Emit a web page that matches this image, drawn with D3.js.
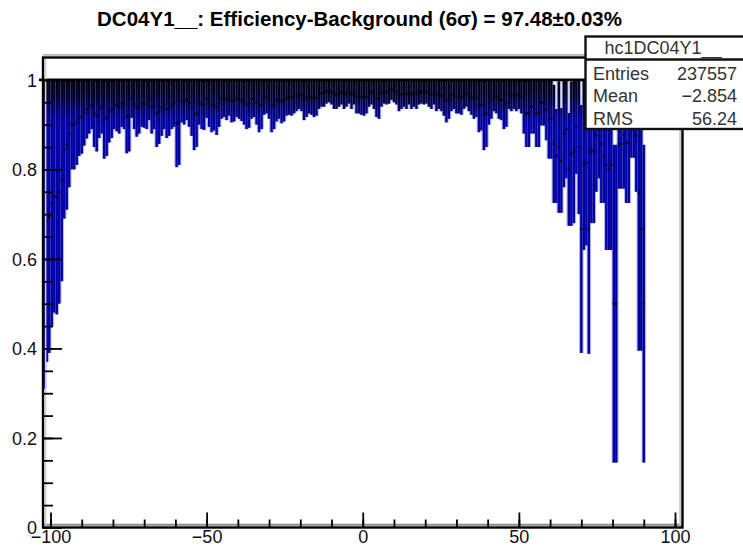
<!DOCTYPE html>
<html>
<head>
<meta charset="utf-8">
<script src="https://cdn.jsdelivr.net/npm/d3@7"></script>
<style>
  html, body { margin: 0; padding: 0; background: #fff; }
  svg { display: block; font-family: "Liberation Sans", Arial, Helvetica, sans-serif; }
</style>
</head>
<body>
<svg id="chart" width="743" height="548"></svg>
<script>
// ---- histogram content -------------------------------------------------
const histTitle = "DC04Y1__: Efficiency-Background (6\u03c3) = 97.48\u00b10.03%";
const histName = "hc1DC04Y1__";
const statLabels = ["Entries", "Mean", "RMS"];
const statValues = ["237557", "\u22122.854", "56.24"];

// 256 bins of 0.8 starting at -102.4
const binLow = -102.4;
const binWidth = 0.8;

// efficiency per bin (null = empty bin)
const eff = [
  0.655,0.685,0.695,0.725,0.74,0.738,0.75,0.775,0.845,0.855,
  0.88,0.90,0.90,0.905,0.915,0.918,0.927,0.935,0.94,0.945,
  0.925,0.92,0.935,0.94,0.912,0.915,0.93,0.935,0.945,0.943,
  0.94,0.948,0.945,0.918,0.92,0.958,0.945,0.937,0.94,0.948,
  0.947,0.945,0.955,0.94,0.945,0.925,0.929,0.938,0.945,0.935,
  0.938,0.945,0.948,0.903,0.905,0.953,0.95,0.955,0.948,0.938,
  0.922,0.925,0.95,0.945,0.944,0.958,0.948,0.942,0.944,0.939,
  0.948,0.957,0.959,0.955,0.96,0.953,0.954,0.959,0.957,0.954,
  0.95,0.945,0.947,0.957,0.959,0.95,0.942,0.945,0.961,0.963,
  0.957,0.942,0.945,0.954,0.957,0.952,0.954,0.96,0.961,0.96,
  0.963,0.965,0.968,0.965,0.955,0.959,0.963,0.961,0.959,0.96,
  0.968,0.97,0.97,0.974,0.975,0.973,0.968,0.968,0.97,0.973,
  0.968,0.97,0.974,0.968,0.973,0.963,0.963,0.961,0.96,0.963,
  0.97,0.973,0.968,0.959,0.957,0.97,0.974,0.973,0.974,0.978,
  0.975,0.973,0.965,0.968,0.97,0.968,0.973,0.968,0.97,0.968,
  0.973,0.974,0.973,0.974,0.97,0.968,0.973,0.965,0.968,0.965,
  0.96,0.953,0.957,0.965,0.968,0.963,0.963,0.961,0.968,0.97,
  0.965,0.961,0.957,0.959,0.942,0.944,0.922,0.925,0.95,0.957,
  0.965,0.963,0.957,0.955,0.945,0.948,0.968,0.965,0.968,0.965,
  0.968,0.963,0.94,0.925,0.925,0.94,0.94,0.925,0.925,0.949,
  0.949,0.933,0.912,0.912,0.857,0.83,0.85,0.82,0.88,0.89,
  0.80,0.835,0.84,0.895,0.85,0.667,0.81,0.815,0.667,0.84,
  0.84,0.875,0.89,0.857,0.83,0.81,0.80,0.81,0.5,0.5,
  0.857,0.857,0.878,0.86,0.86,0.91,0.91,0.875,0.748,0.667,
  0.5,null,null,null,null,null,null,null,null,null,
  null,null,null,null,null,null
];

// binomial error per bin
const err = [
  0.345,0.315,0.305,0.275,0.26,0.262,0.25,0.225,0.155,0.145,
  0.12,0.10,0.10,0.095,0.085,0.083,0.074,0.066,0.06,0.055,
  0.075,0.08,0.065,0.06,0.088,0.085,0.07,0.065,0.055,0.058,
  0.06,0.053,0.055,0.082,0.08,0.043,0.055,0.064,0.06,0.053,
  0.054,0.055,0.045,0.06,0.055,0.075,0.072,0.063,0.055,0.065,
  0.063,0.055,0.053,0.098,0.095,0.048,0.05,0.045,0.053,0.063,
  0.079,0.075,0.05,0.055,0.056,0.043,0.053,0.059,0.057,0.062,
  0.053,0.044,0.042,0.045,0.04,0.048,0.047,0.042,0.044,0.046,
  0.05,0.055,0.054,0.044,0.042,0.05,0.059,0.055,0.039,0.038,
  0.044,0.059,0.055,0.047,0.044,0.049,0.047,0.04,0.039,0.04,
  0.038,0.035,0.033,0.035,0.045,0.042,0.038,0.039,0.042,0.04,
  0.033,0.03,0.03,0.027,0.025,0.028,0.033,0.033,0.03,0.028,
  0.033,0.03,0.027,0.033,0.028,0.038,0.038,0.039,0.04,0.038,
  0.03,0.028,0.033,0.042,0.044,0.03,0.027,0.028,0.027,0.023,
  0.025,0.028,0.035,0.033,0.03,0.033,0.028,0.033,0.03,0.033,
  0.028,0.027,0.028,0.027,0.03,0.033,0.028,0.035,0.033,0.035,
  0.04,0.048,0.044,0.035,0.033,0.038,0.038,0.039,0.033,0.03,
  0.035,0.039,0.044,0.042,0.059,0.057,0.079,0.075,0.05,0.044,
  0.035,0.038,0.044,0.045,0.055,0.053,0.033,0.035,0.033,0.035,
  0.033,0.038,0.06,0.075,0.075,0.06,0.06,0.075,0.075,0.051,
  0.051,0.068,0.088,0.088,0.132,0.105,0.147,0.117,0.12,0.11,
  0.126,0.161,0.16,0.105,0.15,0.277,0.19,0.185,0.279,0.16,
  0.16,0.125,0.11,0.132,0.105,0.19,0.18,0.19,0.355,0.355,
  0.1,0.1,0.121,0.135,0.135,0.084,0.084,0.125,0.353,0.272,
  0.355,null,null,null,null,null,null,null,null,null,
  null,null,null,null,null,null
];

const xRange = [-102.4, 102.4];
const yRange = [0, 1.05];
const xMajor = [-100, -50, 0, 50, 100];
const xMinor = d3.range(-100, 101, 10);
const yMajor = [0, 0.2, 0.4, 0.6, 0.8, 1];
const yMinor = d3.range(0, 21).map(k => k * 0.05);

// ---- layout ------------------------------------------------------------
const frame = { left: 43, right: 682.5, top: 57.5, bottom: 527.5 };
const svg = d3.select("#chart");

const x = d3.scaleLinear().domain(xRange).range([frame.left, frame.right]);
const y = d3.scaleLinear().domain(yRange).range([frame.bottom, frame.top]);

const defs = svg.append("defs");
defs.append("clipPath").attr("id", "plotClip")
  .append("rect")
  .attr("x", frame.left).attr("y", frame.top - 4)
  .attr("width", frame.right - frame.left).attr("height", frame.bottom - frame.top + 4);

// error bars darken where many points crowd near full efficiency
const grad = defs.append("linearGradient").attr("id", "barFill")
  .attr("gradientUnits", "userSpaceOnUse")
  .attr("x1", 0).attr("x2", 0)
  .attr("y1", y(1.0)).attr("y2", y(0.9));
grad.selectAll("stop").data([
  [0, "#00000e"], [0.35, "#00002c"], [0.6, "#000064"], [0.85, "#000092"], [1, "#0000a4"]
]).join("stop").attr("offset", d => d[0]).attr("stop-color", d => d[1]);

svg.append("rect").attr("width", 743).attr("height", 548).attr("fill", "#fff");

// ---- bins ----------------------------------------------------------------
const bins = eff.map((v, i) => ({
  v, e: err[i],
  lo: binLow + i * binWidth,
  c: binLow + (i + 0.5) * binWidth
})).filter(d => d.v !== null);

const plot = svg.append("g").attr("clip-path", "url(#plotClip)");
const binPx = x(binWidth) - x(0);
const barTop = d => y(Math.min(d.v + d.e, 1.06));
const barBottom = d => y(d.v - d.e);

plot.append("g").selectAll("rect").data(bins).join("rect")
  .attr("x", d => x(d.c) - 2.3)
  .attr("width", 4.6)
  .attr("y", barTop)
  .attr("height", d => barBottom(d) - barTop(d))
  .attr("fill", "#a9a9e0")
  .attr("opacity", 0.85);

plot.append("g").selectAll("rect").data(bins).join("rect")
  .attr("x", d => x(d.c) - 1.2)
  .attr("width", 2.4)
  .attr("y", barTop)
  .attr("height", d => barBottom(d) - barTop(d))
  .attr("fill", "url(#barFill)");

// markers at the bin efficiency
plot.append("g").selectAll("rect").data(bins).join("rect")
  .attr("x", d => x(d.lo))
  .attr("width", binPx)
  .attr("y", d => y(d.v) - 1.1)
  .attr("height", 2.2)
  .attr("fill", "#000")
  .attr("opacity", 0.85);

// full-efficiency reference line
svg.append("line")
  .attr("x1", frame.left - 4).attr("x2", frame.right)
  .attr("y1", y(1)).attr("y2", y(1))
  .attr("stroke", "#000").attr("stroke-width", 2.6);

// ---- frame ---------------------------------------------------------------
const edges = [
  { x1: frame.left, y1: frame.top - 2.6, x2: frame.right, y2: frame.top - 2.6, c: "#b4b4b4", w: 1.6 },
  { x1: frame.left, y1: frame.bottom - 2.8, x2: frame.right, y2: frame.bottom - 2.8, c: "#8c8c8c", w: 2 },
  { x1: frame.left + 2.6, y1: frame.top, x2: frame.left + 2.6, y2: frame.bottom, c: "#cfcfcf", w: 1.6 },
  { x1: frame.right - 2.4, y1: frame.top, x2: frame.right - 2.4, y2: frame.bottom, c: "#c4c4c4", w: 1.6 }
];
svg.append("g").selectAll("line").data(edges).join("line")
  .attr("x1", d => d.x1).attr("y1", d => d.y1)
  .attr("x2", d => d.x2).attr("y2", d => d.y2)
  .attr("stroke", d => d.c).attr("stroke-width", d => d.w);

svg.append("rect")
  .attr("x", frame.left).attr("y", frame.top)
  .attr("width", frame.right - frame.left).attr("height", frame.bottom - frame.top)
  .attr("fill", "none").attr("stroke", "#000").attr("stroke-width", 2.4);

// ---- axes ----------------------------------------------------------------
const fmtX = d => d < 0 ? "\u2212" + Math.abs(d) : String(d);
const fmtY = d => String(+d.toFixed(1));

const xMinorAxis = svg.append("g").attr("transform", `translate(0,${frame.bottom})`)
  .call(d3.axisBottom(x).tickValues(xMinor).tickSize(-8).tickFormat(""));
const xAxis = svg.append("g").attr("transform", `translate(0,${frame.bottom})`)
  .call(d3.axisBottom(x).tickValues(xMajor).tickSize(-15).tickPadding(3).tickFormat(fmtX));
const yMinorAxis = svg.append("g").attr("transform", `translate(${frame.left},0)`)
  .call(d3.axisLeft(y).tickValues(yMinor).tickSize(-10).tickFormat(""));
const yAxis = svg.append("g").attr("transform", `translate(${frame.left},0)`)
  .call(d3.axisLeft(y).tickValues(yMajor).tickSize(-19).tickPadding(6).tickFormat(fmtY));

[xMinorAxis, xAxis, yMinorAxis, yAxis].forEach(g => {
  g.select(".domain").remove();
  g.selectAll(".tick line").attr("stroke", "#000").attr("stroke-width", 1.8);
  g.selectAll("text")
    .attr("fill", "#111")
    .style("font-family", '"Liberation Sans", Arial, sans-serif')
    .style("font-size", "18px");
});
yAxis.selectAll("text").attr("dy", "0.36em");

// ---- title ---------------------------------------------------------------
svg.append("text")
  .attr("x", 359.5).attr("y", 25.5)
  .attr("text-anchor", "middle")
  .style("font-size", "20.5px").style("font-weight", "bold")
  .attr("fill", "#000")
  .text(histTitle);

// ---- statistics box ---------------------------------------------------------
const box = { x: 585.5, y: 36.5, w: 162, h: 92.5, header: 59.5 };
const stats = svg.append("g");
stats.append("rect")
  .attr("x", box.x).attr("y", box.y).attr("width", box.w).attr("height", box.h)
  .attr("fill", "#fff").attr("stroke", "#111").attr("stroke-width", 2.4);
stats.append("line")
  .attr("x1", box.x).attr("x2", box.x + box.w)
  .attr("y1", box.header).attr("y2", box.header)
  .attr("stroke", "#111").attr("stroke-width", 2.4);
stats.append("text")
  .attr("x", 663).attr("y", 54)
  .attr("text-anchor", "middle")
  .style("font-size", "18px").attr("fill", "#333")
  .text(histName);

const rowY = [79.8, 102.2, 124.6];
stats.selectAll("text.lab").data(statLabels).join("text").attr("class", "lab")
  .attr("x", 593).attr("y", (d, i) => rowY[i])
  .style("font-size", "18px").attr("fill", "#333")
  .text(d => d);
stats.selectAll("text.val").data(statValues).join("text").attr("class", "val")
  .attr("x", 737).attr("y", (d, i) => rowY[i])
  .attr("text-anchor", "end")
  .style("font-size", "18px").attr("fill", "#333")
  .text(d => d);
</script>
</body>
</html>
